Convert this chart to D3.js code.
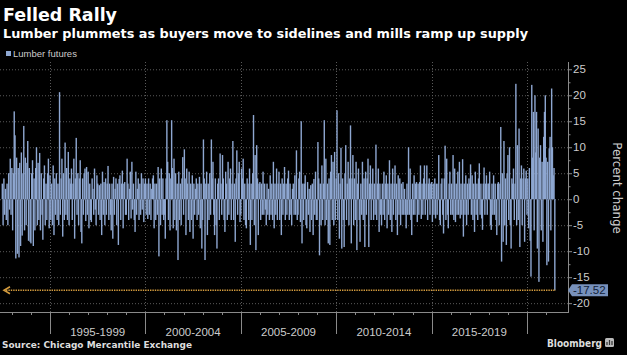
<!DOCTYPE html>
<html><head><meta charset="utf-8">
<script src="https://cdn.jsdelivr.net/npm/d3@7"></script>
<style>body{margin:0;background:#000;} svg{display:block;}</style>
</head><body>
<svg id="c" width="627" height="355"></svg>
<script>
// ---- data ----
const title = "Felled Rally";
const subtitle = "Lumber plummets as buyers move to sidelines and mills ramp up supply";
const seriesName = "Lumber futures";
const startYear = 1992.5;      // first period (semi-monthly periods)
const periodsPerYear = 24;
const values = [
  3,-5,4,-3,2,-4,3,-5,5,-2,7.8,-3,                                                   // 1992 H2
  6,-6,5,16.9,12.3,-11.4,8,-10.5,6,-11.2,7,-9,9,-7,5,14.1,-6,8,-5,7,11.2,-8,6,-8.2,   // 1993
  -8.5,5,7.5,-9,4,-6,6,10,-5,7,-4,8.9,-6,5,-3,-7.8,4,6.5,-5,3,-4,5,7.8,-5.6,          // 1994
  4.6,-4,3,-5,6.5,-6.9,4,-3,5,-4,3,-5,20.6,-3,4,7.8,-7.2,5,-4,10.9,-3,6,-4,9.1,       // 1995
  -5,4,3,5.9,-4,3,7.8,-7.6,4,11.8,-3,5,-5,4,7.5,-6.3,-8.5,4,-3,5,5.9,-4.2,6.2,-3,     // 1996
  5.3,-5.6,3,-4,-4.4,4,2,-3,5.9,-2,-5,4.6,3,-3,2.7,-4,3,-6.9,5.3,-3,3.3,-5,4,-3,      // 1997
  3,6.4,-4,3,-3,-6,3,-7.6,4.3,-3,2,4,-5,3,-8.8,3.9,4.6,-4,3,5.5,-5.6,3,3.3,-3,        // 1998
  -3,7.8,3,-4,2,5.3,-3.7,7.2,-2,3,-4,-6.3,5.3,-3,2,4,-4,3,-3,5,-2,4,-4.4,3,          // 1999
  4,-3,3,-3.8,4,-3,3,-4,2,4,4.6,-5.6,3,-4,3,-3,6.2,-11,4,-5,5.9,-3,4,-4,             // 2000
  -3,-7.6,4,15.2,7.2,-4,5,-6,4,15.2,6,-5.6,7.8,-4,5,-6,3,-11.7,5.3,-4,3,-5,4,8.1,    // 2001
  -3,9.6,4,-6.9,5.9,3,-4,5.3,-6.3,3,-4,4.6,-7.6,3,-3,2,4,-4,3,-3,4.3,-5.6,3,-9.5,    // 2002
  -4,11.5,4,-11.7,3,5.3,-6.9,3,-4,5,-3,11.5,4,7.2,-3,-6.9,4,-5,-9.5,3,4,-4,8.8,3,    // 2003
  -3,8.5,4,-4,-6.3,5.3,3,-4,7.2,-3,4,5.9,-4,3,11.2,-4,3,-8.2,4,9.4,-3,5,7.2,-4.4,    // 2004
  -3,5.9,4,7.8,-4,3,-5,-5.6,4,3,-4,5.9,-8.8,3,-4,5,16.2,-5,8.5,-9.8,10.4,4,-6.9,3,   // 2005
  3.3,-4,3,-3,5.3,-3,3,-2,-5,3,-3,2,-4,4.6,-3,3,-4,7.2,-5.6,3,-3,5.9,-4,3,           // 2006
  5.3,-4,3,-6.9,4,-3,3,6.2,-4,3,-3,4,5.5,-4,3,-3,-5,2,3,-3,4.6,-3,9.4,-4,            // 2007
  -3,4,5.3,-4.4,15,-8.5,3,-4,3,4.6,-5,-5.6,3.3,-3,2,-6.3,2.7,-4,3,-6.9,3.9,-3,5.3,-4, // 2008
  -4,11,4,-10.8,3,-5,6.5,-4,3,15.2,-5,7.8,-4,3,-8.5,4,-8.8,5.3,8.5,-4,7.2,-5,9.1,-4,  // 2009
  4,17.1,-4,5,-7.6,3,9.9,-9.5,4,-4,-9.2,5,10.4,-4,3,7.2,-5,4,14.2,-8.5,4,8.5,-5,4,    // 2010
  -4,7.2,-9.8,3,5.9,-4,-8.2,3,-3,7.2,-4,4,-9.2,5.3,-3,4,7.8,-9.2,3,6.5,-4,3,5.9,-4,   // 2011
  3,-3,10.5,-4,3,5.9,-6.3,3,-3,-5,3,-3,5.3,-4,3,4.6,-5.6,3,-3,7.5,-4,3,-6.3,5.9,     // 2012
  -3,3,6.5,-4,3,-6.9,4.6,-3,4,-5,3,-3,3.3,-3,2,-3,-5.6,3,-3,10,-3,5.9,-4,-6.9,       // 2013
  3,-3,4.6,-3,3,3.3,-4.4,3,-3,3.3,6.5,-3.8,3,-3,4,6.5,-3,3,6.5,-4,3,4,-3,3,          // 2014
  3.3,-4.4,3,-3,4,-3.7,3,-3,3,8.5,-4,-5,3,4,-3,-6.6,4,10.3,-4,7.8,-3,-5.6,3,5.3,     // 2015
  -3,3,-3,8.5,-4,5.9,-4.4,3,-3,5.3,-3,7.2,-3.7,3,-3,7.7,-7.2,3,-3,4.6,-5,3,-3,4,     // 2016
  3,6.7,-3,4.6,-4,3,-6.3,5.3,-3,3,-4,4,6.9,-3,3,-3.7,-5.9,3,6.1,-3,3,4.6,-3,3,       // 2017
  3,5.3,-5,-5.9,3,-3,4.6,-3,3,-4,-6.9,3,3.3,-5,3,13.9,-12,5,-8.2,11.2,-5,4,-8.8,5,   // 2018
  8.5,-4,10,-5,-9.5,4,3,5.9,-4,3,22.2,-5,10.4,-4,13.6,-9.2,4,6.5,-5,4,5.9,-8.2,4,5.5, // 2019
  -3,4,-5.6,6,-8,-14.9,22,8,16.8,-6,20,9,16.8,-9.5,13.6,-15.9,8,10.4,-6,7.2,-8.2,12,16.8,20, // 2020
  8,-12.7,7.2,-12,9.8,12,-6,21.3,10,4.6,6,-17.52                                     // 2021 H1
];
const lastValue = -17.52;
const yTicks = [-20,-15,-10,-5,0,5,10,15,20,25];
const yTickLabels = ["-20","-15","-10","-5","0","5","10","15","20","25"];
const periodStarts = [1995,2000,2005,2010,2015,2020];
const periodLabels = ["1995-1999","2000-2004","2005-2009","2010-2014","2015-2019"];
const yearTicks = d3.range(1993, 2022);
const yAxisTitle = "Percent change";
const sourceText = "Source: Chicago Mercantile Exchange";
const brand = "Bloomberg";

// ---- layout / styles ----
const barColor = "#8ea7d1";
const gridColor = "#5a5a5a";
const axisColor = "#8a8a8a";
const textColor = "#cccccc";
const PL = 0, PR = 568, PT = 62, PB = 312;

const svg = d3.select("#c");
svg.append("rect").attr("width",627).attr("height",355).attr("fill","#000");

const x = d3.scaleLinear().domain([1995 - 50/19.08, 2020 + 41/19.08]).range([PL, PR]);
const y = d3.scaleLinear().domain([-21.7, 26.4]).range([PB, PT]);

// titles
svg.append("text").attr("x",3).attr("y",21).text(title)
  .attr("font-family","DejaVu Sans").attr("font-weight","bold").attr("font-size",17)
  .attr("fill","#fff").attr("textLength",114).attr("lengthAdjust","spacingAndGlyphs");
svg.append("text").attr("x",3).attr("y",38).text(subtitle)
  .attr("font-family","DejaVu Sans").attr("font-weight","bold").attr("font-size",13)
  .attr("fill","#fff").attr("textLength",525).attr("lengthAdjust","spacingAndGlyphs");
// legend
svg.append("rect").attr("x",6).attr("y",51).attr("width",5).attr("height",5).attr("fill",barColor);
svg.append("text").attr("x",13).attr("y",57).text(seriesName)
  .attr("font-family","Liberation Sans").attr("font-size",9.5).attr("fill",textColor);

// grid
const g = svg.append("g");
g.selectAll(".hg").data(yTicks).join("line")
  .attr("x1",PL).attr("x2",PR).attr("y1",d=>y(d)+0.5).attr("y2",d=>y(d)+0.5)
  .attr("stroke",gridColor).attr("stroke-dasharray","1,2");
g.selectAll(".vg").data(periodStarts).join("line")
  .attr("x1",d=>Math.round(x(d))+0.5).attr("x2",d=>Math.round(x(d))+0.5).attr("y1",PT).attr("y2",PB)
  .attr("stroke",gridColor).attr("stroke-dasharray","1,2");

// bars
const bw = 1.4;
svg.append("g").selectAll("rect").data(values).join("rect")
  .attr("x",(d,i)=>x(startYear + i/periodsPerYear) - bw/2)
  .attr("width",bw)
  .attr("y",d=>y(Math.max(0,d)))
  .attr("height",d=>Math.abs(y(d)-y(0)))
  .attr("fill",barColor);

// x axis
svg.append("line").attr("x1",PL).attr("x2",PR).attr("y1",PB+0.5).attr("y2",PB+0.5).attr("stroke",axisColor);
svg.selectAll(".pt").data(periodStarts).join("line")
  .attr("x1",d=>Math.round(x(d))+0.5).attr("x2",d=>Math.round(x(d))+0.5).attr("y1",PB).attr("y2",PB+22)
  .attr("stroke",axisColor);
svg.selectAll(".yt").data(yearTicks.filter(d=>!periodStarts.includes(d))).join("line")
  .attr("x1",d=>Math.round(x(d))+0.5).attr("x2",d=>Math.round(x(d))+0.5).attr("y1",PB).attr("y2",PB+3)
  .attr("stroke",axisColor);
svg.selectAll(".pl").data(periodLabels).join("text")
  .attr("x",(d,i)=>(x(periodStarts[i])+x(periodStarts[i+1]))/2).attr("y",336)
  .attr("text-anchor","middle").text(d=>d)
  .attr("font-family","Liberation Sans").attr("font-size",11.5).attr("fill",textColor);

// y axis (right)
svg.append("line").attr("x1",PR+0.5).attr("x2",PR+0.5).attr("y1",PT).attr("y2",PB+1).attr("stroke",axisColor);
const minor = d3.range(-20, 26, 2.5).filter(d=>!yTicks.includes(d));
svg.selectAll(".mt").data(minor).join("line")
  .attr("x1",PR).attr("x2",PR+2.5).attr("y1",d=>y(d)+0.5).attr("y2",d=>y(d)+0.5).attr("stroke",axisColor);
svg.selectAll(".Mt").data(yTicks).join("line")
  .attr("x1",PR).attr("x2",PR+4).attr("y1",d=>y(d)+0.5).attr("y2",d=>y(d)+0.5).attr("stroke",axisColor);
svg.selectAll(".yl").data(yTicks).join("text")
  .attr("x",PR+5).attr("y",d=>y(d)).attr("dy","0.36em").text((d,i)=>yTickLabels[i])
  .attr("font-family","Liberation Sans").attr("font-size",11.5).attr("fill",textColor);

// y axis title
svg.append("text").attr("transform","translate(613,188) rotate(90)")
  .attr("text-anchor","middle").text(yAxisTitle)
  .attr("font-family","DejaVu Sans").attr("font-size",11.8).attr("fill",textColor);

// last value reference line
const ly = y(lastValue);
const lastX = x(startYear + (values.length-1)/periodsPerYear);
svg.append("line").attr("x1",6).attr("x2",lastX+1).attr("y1",ly).attr("y2",ly)
  .attr("stroke","#d39b3d").attr("stroke-width",1.6).attr("stroke-dasharray","1.4,1");
svg.append("path").attr("d",`M10,${ly-3.5} L4,${ly} L10,${ly+3.5}`)
  .attr("fill","none").attr("stroke","#d39b3d").attr("stroke-width",1.6);

// last value label
svg.append("path")
  .attr("d",`M${PR},${ly} L${PR+4},${ly-6} L${PR+40},${ly-6} L${PR+40},${ly+6} L${PR+4},${ly+6} Z`)
  .attr("fill","#7791bc");
svg.append("text").attr("x",PR+5).attr("y",ly).attr("dy","0.36em").text(d3.format(".2f")(lastValue).replace("−","-"))
  .attr("font-family","Liberation Sans").attr("font-size",11.5).attr("fill","#102038");

// footer
svg.append("text").attr("x",2).attr("y",348).text(sourceText)
  .attr("font-family","DejaVu Sans").attr("font-weight","bold").attr("font-size",9)
  .attr("fill","#ddd").attr("textLength",190).attr("lengthAdjust","spacingAndGlyphs");
svg.append("text").attr("x",547).attr("y",347).text(brand)
  .attr("font-family","DejaVu Sans").attr("font-weight","bold").attr("font-size",10.5)
  .attr("fill","#ddd").attr("textLength",55).attr("lengthAdjust","spacingAndGlyphs");
svg.append("rect").attr("x",605).attr("y",338).attr("width",9).attr("height",9).attr("rx",1.5).attr("fill","#bbb");
svg.append("path").attr("d","M607,345 L607,342 M609.5,345 L609.5,340 M612,345 L612,341").attr("stroke","#333").attr("stroke-width",1.2);
</script>
</body></html>
